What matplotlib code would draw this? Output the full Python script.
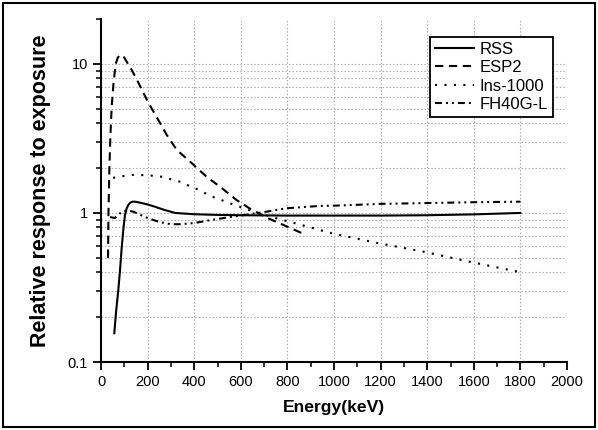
import matplotlib
matplotlib.use("Agg")
import matplotlib.pyplot as plt
import matplotlib.ticker as ticker
from matplotlib.patches import Rectangle

plt.rcParams["font.family"] = ["Liberation Sans", "DejaVu Sans"]
plt.rcParams["lines.scale_dashes"] = False

# ── Data ───────────────────────────────────────────────────────────────
rss_e = [57, 65, 74, 82, 89, 96, 103, 110, 117, 125, 135, 146, 170, 200, 232,
         270, 318, 400, 500, 600, 800, 1000, 1200, 1400, 1600, 1800]
rss_v = [0.156, 0.22, 0.30, 0.42, 0.59, 0.78, 0.97, 1.07, 1.13, 1.17, 1.19, 1.19,
         1.17, 1.14, 1.10, 1.05, 1.00, 0.98, 0.97, 0.965, 0.96, 0.96, 0.96, 0.965,
         0.978, 1.0]

esp2_e = [30, 31, 32, 34, 36, 40, 46, 54, 63, 72, 80, 89, 100, 116, 132, 160,
          203, 250, 282, 325, 389, 453, 518, 582, 647, 718, 783, 847, 860]
esp2_v = [0.5, 0.7, 1.0, 1.4, 2.0, 3.2, 5.2, 7.5, 10.0, 11.0, 11.4, 11.5, 11.0,
          10.0, 9.1, 7.5, 5.5, 4.1, 3.34, 2.65, 2.16, 1.75, 1.47, 1.22, 1.05,
          0.92, 0.83, 0.75, 0.735]

ins_e = [52, 100, 139, 200, 260, 339, 378, 418, 475, 554, 632, 754, 911, 990,
         1183, 1383, 1584, 1800]
ins_v = [1.72, 1.77, 1.80, 1.79, 1.75, 1.62, 1.52, 1.43, 1.29, 1.16, 1.05, 0.92,
         0.79, 0.73, 0.63, 0.55, 0.47, 0.40]

fh_e = [39, 50, 60, 75, 89, 110, 139, 170, 203, 250, 300, 335, 400, 461, 500,
        567, 639, 711, 797, 940, 1011, 1197, 1400, 1600, 1800]
fh_v = [0.94, 0.93, 0.925, 0.97, 1.02, 1.04, 1.02, 0.97, 0.92, 0.87, 0.84, 0.84,
        0.855, 0.89, 0.91, 0.945, 0.98, 1.02, 1.075, 1.115, 1.12, 1.15, 1.165,
        1.18, 1.19]

labels = ["RSS", "ESP2", "Ins-1000", "FH40G-L"]

# ── Figure ─────────────────────────────────────────────────────────────
fig = plt.figure(figsize=(5.98, 4.30), dpi=100)
ax = fig.add_axes([101 / 598, 1 - 362 / 430, 466 / 598, 343 / 430])

lw = 1.5
ax.plot(rss_e, rss_v, color="black", linewidth=lw, linestyle="-", label=labels[0])
ax.plot(esp2_e, esp2_v, color="black", linewidth=lw, linestyle=(0, (6, 4)), label=labels[1])
ax.plot(ins_e, ins_v, color="black", linewidth=lw, linestyle=(0, (1.5, 5.3)), label=labels[2])
ax.plot(fh_e, fh_v, color="black", linewidth=lw,
        linestyle=(0, (5, 2.9, 1.4, 2.9, 1.4, 2.9)), label=labels[3])

ax.set_yscale("log")
ax.set_xlim(0, 2000)
ax.set_ylim(0.1, 20)

ax.xaxis.set_major_locator(ticker.MultipleLocator(200))
ax.xaxis.set_minor_locator(ticker.MultipleLocator(100))
ax.yaxis.set_major_locator(ticker.FixedLocator([0.1, 1, 10]))
ax.yaxis.set_minor_locator(ticker.LogLocator(base=10, subs=range(2, 10)))
ax.yaxis.set_major_formatter(ticker.FuncFormatter(lambda v, _: f"{v:g}"))
ax.yaxis.set_minor_formatter(ticker.NullFormatter())

# grid: vertical at 200..1800, horizontal at every major/minor decade step
for x in range(200, 2000, 200):
    ax.axvline(x, color="#a8a8a8", linestyle=(0, (1, 1.5)), linewidth=0.8, zorder=0)
for y in [0.2, 0.3, 0.4, 0.5, 0.6, 0.7, 0.8, 0.9, 1, 2, 3, 4, 5, 6, 7, 8, 9, 10]:
    ax.axhline(y, color="#a8a8a8", linestyle=(0, (1, 1.5)), linewidth=0.8, zorder=0)

for side in ["top", "right"]:
    ax.spines[side].set_visible(False)
for side in ["left", "bottom"]:
    ax.spines[side].set_linewidth(1.5)

ax.tick_params(which="major", direction="out", length=6, width=1.3, labelsize=10.5)
ax.tick_params(which="minor", direction="out", length=3.5, width=1.1)

ax.set_xlabel("Energy(keV)", fontsize=12.6, fontweight="bold", labelpad=8)
ax.set_ylabel("Relative response to exposure", fontsize=15.5, fontweight="bold", labelpad=12)

leg = ax.legend(loc="upper right", bbox_to_anchor=(0.97, 0.948), borderaxespad=0,
                fontsize=12, frameon=True, fancybox=False, framealpha=1,
                edgecolor="black", handlelength=2.3, handletextpad=0.35,
                labelspacing=0.2, borderpad=0.3)
leg.get_frame().set_linewidth(1.3)

# outer frame around the whole figure
fig.patches.append(Rectangle((3 / 598, 3 / 430), 592 / 598, 424 / 430,
                             transform=fig.transFigure, fill=False,
                             edgecolor="black", linewidth=1.5))

fig.savefig("out.png", dpi=100)
